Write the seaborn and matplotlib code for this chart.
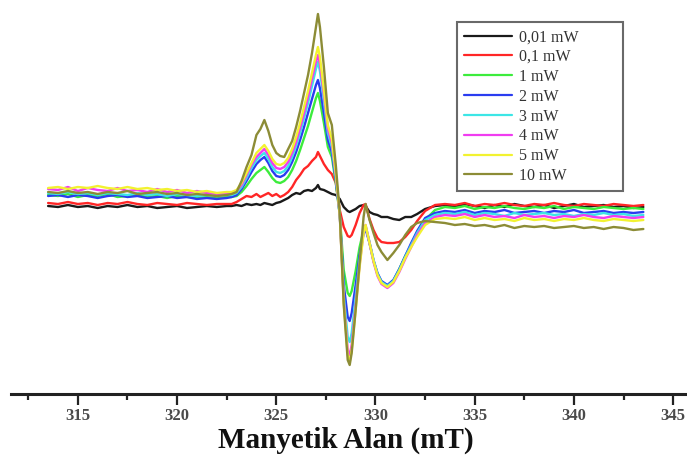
import matplotlib
matplotlib.use("Agg")
import matplotlib.pyplot as plt
import pandas as pd
import seaborn as sns
from matplotlib.lines import Line2D
from matplotlib.ticker import MultipleLocator

# Magnetic field sampling points (mT)
field = [
    313.5, 314.0, 314.5, 315.0, 315.5, 316.0, 316.5, 317.0, 317.5, 318.0,
    318.5, 319.0, 319.5, 320.0, 320.5, 321.0, 321.5, 322.0, 322.5,
    322.75, 323.0, 323.25, 323.5, 323.75, 324.0, 324.2, 324.4, 324.6, 324.8,
    325.0, 325.2, 325.4, 325.6, 325.8, 326.0, 326.2, 326.4, 326.6, 326.8,
    327.0, 327.1, 327.2, 327.4, 327.6, 327.8, 328.0, 328.2, 328.4, 328.6,
    328.7, 328.8, 329.0, 329.2, 329.4, 329.5, 329.7, 329.9, 330.1, 330.3,
    330.6, 330.9, 331.2, 331.5, 331.8, 332.1, 332.5, 333.0,
    333.5, 334.0, 334.5, 335.0, 335.5, 336.0, 336.5, 337.0, 337.5, 338.0,
    338.5, 339.0, 339.5, 340.0, 340.5, 341.0, 341.5, 342.0, 342.5, 343.0, 343.5,
]

powers = ["0,01 mW", "0,1 mW", "1 mW", "2 mW", "3 mW", "4 mW", "5 mW", "10 mW"]
colors = ["#1a1a1a", "#ff2626", "#3cec3c", "#2a3cf0", "#3ce6e6",
          "#f03cf0", "#f2f230", "#8c8c36"]

# ESR signal intensity (a.u.) for each microwave power
esr_001 = [
    -1, -2, 0, -2, -1, -3, -1, -2, 0, -2, -1, -3, -2, -1, -3, -2, -1, -2, -1,
    -1, 0, -1, 1, 0, 1, 0, 2, 1, 0, 2, 3, 5, 7, 10, 12, 11, 14, 15, 14,
    17, 20, 16, 15, 13, 11, 10, 6, -2, -6, -7, -6, -4, -1, 0, -1, -7, -9,
    -10, -12, -12, -14, -15, -12, -12, -9, -4, -1,
    0, -2, 1, -1, -3, 0, -2, 1, -1, -2, 0, -3, -1, 1, -2, -1, 0, -2, -1, -3, -2,
]
esr_01 = [
    2, 1, 3, 1, 2, 0, 2, 1, 3, 1, 0, 2, 1, 0, 2, 1, 0, 1, 1,
    1, 3, 6, 9, 8, 11, 8, 10, 12, 9, 11, 8, 10, 13, 18, 25, 30, 36, 39, 44,
    48, 53, 49, 41, 35, 31, 22, -5, -22, -31, -32, -30, -20, -8, 0, 1, -14, -25,
    -33, -37, -38, -38, -37, -32, -25, -16, -6, 0,
    1, 0, 2, -1, 1, 0, 2, 0, -1, 1, 0, 2, 0, -1, 1, 0, -1, 1, 0, -1, 0,
]
esr_1 = [
    10, 9, 11, 8, 10, 9, 11, 8, 9, 10, 8, 9, 7, 9, 8, 7, 8, 7, 8,
    8, 9, 13, 19, 26, 32, 35, 38, 33, 27, 23, 22, 24, 28, 35, 44, 55, 67, 79, 93,
    107, 112, 104, 82, 58, 48, 22, -10, -65, -88, -91, -86, -66, -42, -25, -22, -38, -56,
    -69, -77, -81, -76, -64, -51, -40, -28, -15, -5,
    -2, -3, -1, -4, -2, -3, -1, -3, -4, -2, -3, -1, -4, -2, -3, -4, -2, -3, -4, -3, -4,
]
esr_2 = [
    9, 10, 8, 10, 9, 7, 9, 10, 8, 9, 7, 8, 9, 7, 8, 6, 7, 6, 7,
    8, 10, 16, 24, 33, 41, 45, 48, 42, 34, 29, 28, 30, 35, 43, 53, 65, 78, 92, 106,
    120, 125, 117, 92, 65, 53, 25, -10, -80, -112, -116, -108, -80, -50, -28, -24, -38, -55,
    -68, -76, -80, -75, -64, -51, -38, -26, -13, -8,
    -6, -7, -5, -8, -6, -7, -5, -8, -7, -6, -8, -6, -7, -5, -8, -7, -6, -8, -7, -8, -7,
]
esr_3 = [
    12, 11, 13, 11, 12, 10, 12, 11, 10, 12, 10, 11, 9, 11, 10, 9, 10, 9, 10,
    10, 12, 18, 27, 37, 45, 49, 52, 46, 38, 33, 32, 34, 39, 48, 59, 72, 87, 102, 119,
    136, 143, 134, 104, 72, 58, 28, -10, -90, -132, -137, -128, -92, -55, -26, -21, -37, -55,
    -69, -77, -81, -76, -65, -52, -40, -28, -15, -10,
    -8, -9, -7, -10, -8, -9, -11, -8, -10, -9, -8, -10, -9, -11, -9, -10, -8, -10, -9, -11, -10,
]
esr_4 = [
    16, 15, 18, 14, 17, 15, 14, 17, 14, 15, 13, 16, 13, 15, 12, 14, 12, 11, 12,
    12, 14, 20, 30, 40, 48, 52, 56, 50, 42, 37, 36, 38, 43, 52, 63, 77, 92, 108, 126,
    143, 150, 141, 110, 76, 62, 30, -10, -95, -145, -150, -140, -100, -60, -27, -20, -38, -57,
    -71, -79, -83, -78, -67, -54, -42, -30, -18, -12,
    -10, -11, -9, -12, -10, -12, -11, -13, -10, -12, -11, -13, -11, -12, -10, -12, -13, -11, -12, -13, -12,
]
esr_5 = [
    17, 18, 16, 18, 17, 19, 17, 16, 18, 16, 17, 15, 16, 14, 15, 13, 14, 12, 13,
    13, 15, 22, 32, 42, 52, 56, 60, 54, 46, 41, 40, 42, 47, 56, 68, 82, 98, 114, 132,
    150, 158, 148, 115, 80, 66, 32, -10, -98, -150, -157, -145, -105, -62, -28, -20, -38, -56,
    -70, -78, -82, -77, -66, -53, -42, -32, -20, -14,
    -13, -14, -12, -15, -13, -15, -14, -16, -13, -15, -14, -16, -14, -15, -13, -15, -16, -14, -15, -16, -15,
]
esr_10 = [
    13, 12, 14, 12, 13, 11, 13, 12, 14, 11, 12, 13, 11, 12, 10, 11, 10, 9, 10,
    11, 13, 24, 38, 50, 70, 76, 85, 74, 60, 52, 49, 48, 56, 64, 78, 94, 112, 130, 152,
    178, 191, 178, 138, 92, 80, 40, -8, -100, -155, -160, -148, -105, -58, -12, 1, -15, -28,
    -40, -47, -55, -48, -40, -30, -22, -18, -16, -17,
    -18, -20, -19, -21, -20, -22, -20, -23, -21, -22, -21, -23, -22, -21, -23, -22, -24, -22, -23, -25, -24,
]

series = [esr_001, esr_01, esr_1, esr_2, esr_3, esr_4, esr_5, esr_10]

frames = []
for label, values in zip(powers, series):
    frames.append(pd.DataFrame({"field": field, "intensity": values, "power": label}))
df = pd.concat(frames, ignore_index=True)

sns.set_style("white")
plt.rcParams["font.family"] = ["Liberation Serif", "DejaVu Serif"]

fig = plt.figure(figsize=(6.87, 4.63), dpi=100)
ax = fig.add_axes([11 / 687, 1 - 394 / 463, 676 / 687, 394 / 463])

palette = dict(zip(powers, colors))
sns.lineplot(data=df, x="field", y="intensity", hue="power", hue_order=powers,
             palette=palette, estimator=None, sort=False, linewidth=1.7,
             legend=False, ax=ax)

ax.set_xlim(311.63, 345.70)
ax.set_ylim(-189, 205)

for side in ("left", "top", "right"):
    ax.spines[side].set_visible(False)
ax.spines["bottom"].set_linewidth(2.2)
ax.spines["bottom"].set_color("#222222")

ax.set_yticks([])
ax.set_ylabel("")
ax.xaxis.set_major_locator(MultipleLocator(5))
ax.xaxis.set_minor_locator(MultipleLocator(2.5))
ax.tick_params(axis="x", which="major", direction="out", length=8, width=1.6,
               color="#222222", labelsize=12, labelcolor="#4a4a4a", pad=2,
               bottom=True)
ax.tick_params(axis="x", which="minor", direction="out", length=4, width=1.6,
               color="#222222", bottom=True)
for lab in ax.get_xticklabels():
    lab.set_fontweight("bold")

ax.set_xlabel("Manyetik Alan (mT)", fontsize=21, fontweight="bold", color="#111111")
ax.xaxis.set_label_coords((346 - 11) / 676, -0.084)

handles = [Line2D([0], [0], color=c, linewidth=1.6) for c in colors]
leg = ax.legend(handles, powers, loc="upper left",
                bbox_to_anchor=(457 / 687, 1 - 192 / 463, 166 / 687, 170 / 463),
                bbox_transform=fig.transFigure, mode="expand", borderaxespad=0,
                fontsize=11.5, labelspacing=0.24, handlelength=3.0,
                handletextpad=0.45, borderpad=0.45, frameon=True, fancybox=False,
                labelcolor="#333333")
leg.get_frame().set_edgecolor("#444444")
leg.get_frame().set_linewidth(1.5)

fig.savefig("out.png", dpi=100, facecolor="white")
